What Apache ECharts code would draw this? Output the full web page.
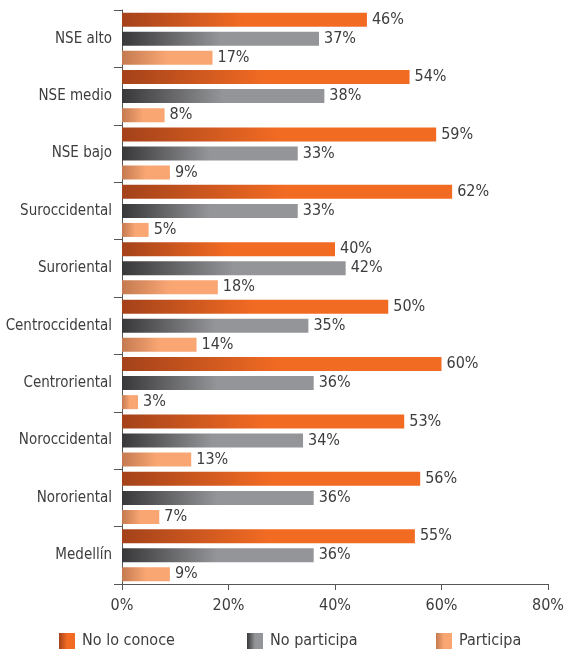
<!DOCTYPE html>
<html>
<head>
<meta charset="utf-8">
<script src="https://cdn.jsdelivr.net/npm/echarts@6/dist/echarts.min.js"></script>
<style>html,body{margin:0;padding:0;background:#fff}#c{width:567px;height:650px}</style>
</head>
<body>
<div id="c"></div>
<script>
const categories = ['NSE alto','NSE medio','NSE bajo','Suroccidental','Suroriental','Centroccidental','Centroriental','Noroccidental','Nororiental','Medellín'];
const noLoConoce = [46,54,59,62,40,50,60,53,56,55];
const noParticipa = [37,38,33,33,42,35,36,34,36,36];
const participa = [17,8,9,5,18,14,3,13,7,9];
const xTicks = [0,20,40,60,80];

const FONT = "'Liberation Sans Narrow','DejaVu Sans Condensed','Roboto Condensed',sans-serif";
const TXT = '#3d3d3d';

function grad(c0, c1) {
  return new echarts.graphic.LinearGradient(0,0,1,0,[{offset:0,color:c0},{offset:0.5,color:c1},{offset:1,color:c1}]);
}
const cOrange = grad('#a4421a','#f26b23');
const cGray = grad('#38383a','#949598');
const cLight = grad('#c47a50','#f9a673');

function mk(name, data, color) {
  return {
    name, type:'bar', data, barWidth:14, barGap:'36%',
    itemStyle:{color},
    label:{show:true, position:'right', distance:5, formatter:'{c}%', color:TXT, fontFamily:FONT, fontSize:16},
    animation:false
  };
}
function lg(name, left) {
  return {data:[name], left, bottom:1, padding:0, itemWidth:16, itemHeight:16, icon:'rect', itemGap:0,
    textStyle:{color:TXT, fontFamily:FONT, fontSize:16, padding:[0,0,0,2]}, selectedMode:false};
}

const chart = echarts.init(document.getElementById('c'));
chart.setOption({
  animation:false,
  grid:{left:122, right:18, top:10, bottom:66},
  xAxis:{type:'value', min:0, max:80, interval:20,
    axisLine:{show:true, lineStyle:{color:'#555', width:1}},
    axisTick:{show:true, length:6, lineStyle:{color:'#555'}},
    splitLine:{show:false},
    axisLabel:{formatter:v=>xTicks.includes(v)?v+'%':'', color:TXT, fontFamily:FONT, fontSize:16, margin:14}},
  yAxis:{type:'category', data:categories, inverse:true,
    axisLine:{show:true, lineStyle:{color:'#555', width:1}},
    axisTick:{show:true, length:8, lineStyle:{color:'#555'}},
    axisLabel:{color:TXT, fontFamily:FONT, fontSize:15, margin:10}},
  legend:[lg('No lo conoce',59), lg('No participa',247), lg('Participa',436)],
  series:[mk('No lo conoce',noLoConoce,cOrange), mk('No participa',noParticipa,cGray), mk('Participa',participa,cLight)]
});
</script>
</body>
</html>
